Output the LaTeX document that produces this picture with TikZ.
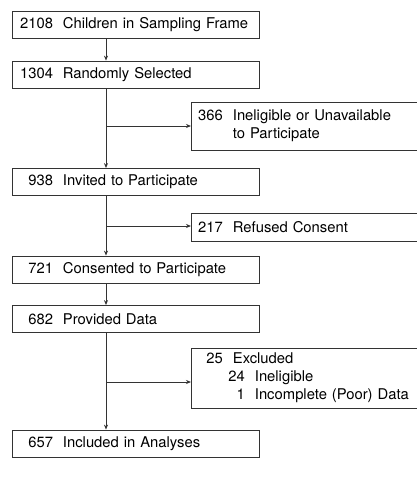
\documentclass[tikz,border=0pt]{standalone}
\usepackage{fontspec}
\setmainfont{TeX Gyre Heros}
\usetikzlibrary{arrows.meta}
\newcommand\mnum[1]{\makebox[33pt][r]{#1}\hspace{10pt}}
\newcommand\snum[1]{\makebox[24.5pt][r]{#1}\hspace{10pt}}
\begin{document}
\begin{tikzpicture}[x=1pt,y=-1pt,
  boxfont/.style={font=\fontsize{14.8}{18}\selectfont},
  mainbox/.style={draw=black!80, line width=0.8pt, boxfont, minimum width=247pt,
    minimum height=27pt, inner xsep=8pt, inner ysep=0pt, text width=231pt, align=left},
  sidebox/.style={draw=black!80, line width=0.8pt, boxfont, anchor=west,
    minimum height=28pt, inner xsep=7pt, inner ysep=0pt, text width=240pt, align=left},
  conn/.style={draw=black!80, line width=0.8pt},
  arr/.style={conn, -{Stealth[length=5pt,width=4pt]}}]
\useasboundingbox (0,0) rectangle (417,477);
\clip (0,0) rectangle (417,477);
\coordinate (vx) at (106,0);
\node[mainbox] (b1) at (135.5,25) {\mnum{2108}Children in Sampling Frame};
\node[mainbox] (b2) at (135.5,74.5) {\mnum{1304}Randomly Selected};
\node[sidebox, minimum height=48pt] (s1) at (191,126) {\snum{366}Ineligible or Unavailable\\\hspace*{34.5pt}to Participate};
\node[mainbox] (b3) at (135.5,182) {\mnum{938}Invited to Participate};
\node[sidebox] (s2) at (191,227.5) {\snum{217}Refused Consent};
\node[mainbox] (b4) at (135.5,269.5) {\mnum{721}Consented to Participate};
\node[mainbox] (b5) at (135.5,319) {\mnum{682}Provided Data};
\node[sidebox, minimum height=60pt] (s3) at (191,378) {\snum{25}Excluded\\\hspace*{22pt}\snum{24}Ineligible\\\hspace*{22pt}\snum{1}Incomplete (Poor) Data};
\node[mainbox] (b6) at (135.5,443.5) {\mnum{657}Included in Analyses};
\coordinate (j1) at (106,126);
\coordinate (j2) at (106,226);
\coordinate (j3) at (106,382);
\draw[arr] (b1.south -| vx) -- (b2.north -| vx);
\draw[arr] (b2.south -| vx) -- (b3.north -| vx);
\draw[arr] (j1) -- (j1 -| s1.west);
\draw[arr] (b3.south -| vx) -- (b4.north -| vx);
\draw[arr] (j2) -- (j2 -| s2.west);
\draw[arr] (b4.south -| vx) -- (b5.north -| vx);
\draw[arr] (b5.south -| vx) -- (b6.north -| vx);
\draw[arr] (j3) -- (j3 -| s3.west);
\end{tikzpicture}
\end{document}
